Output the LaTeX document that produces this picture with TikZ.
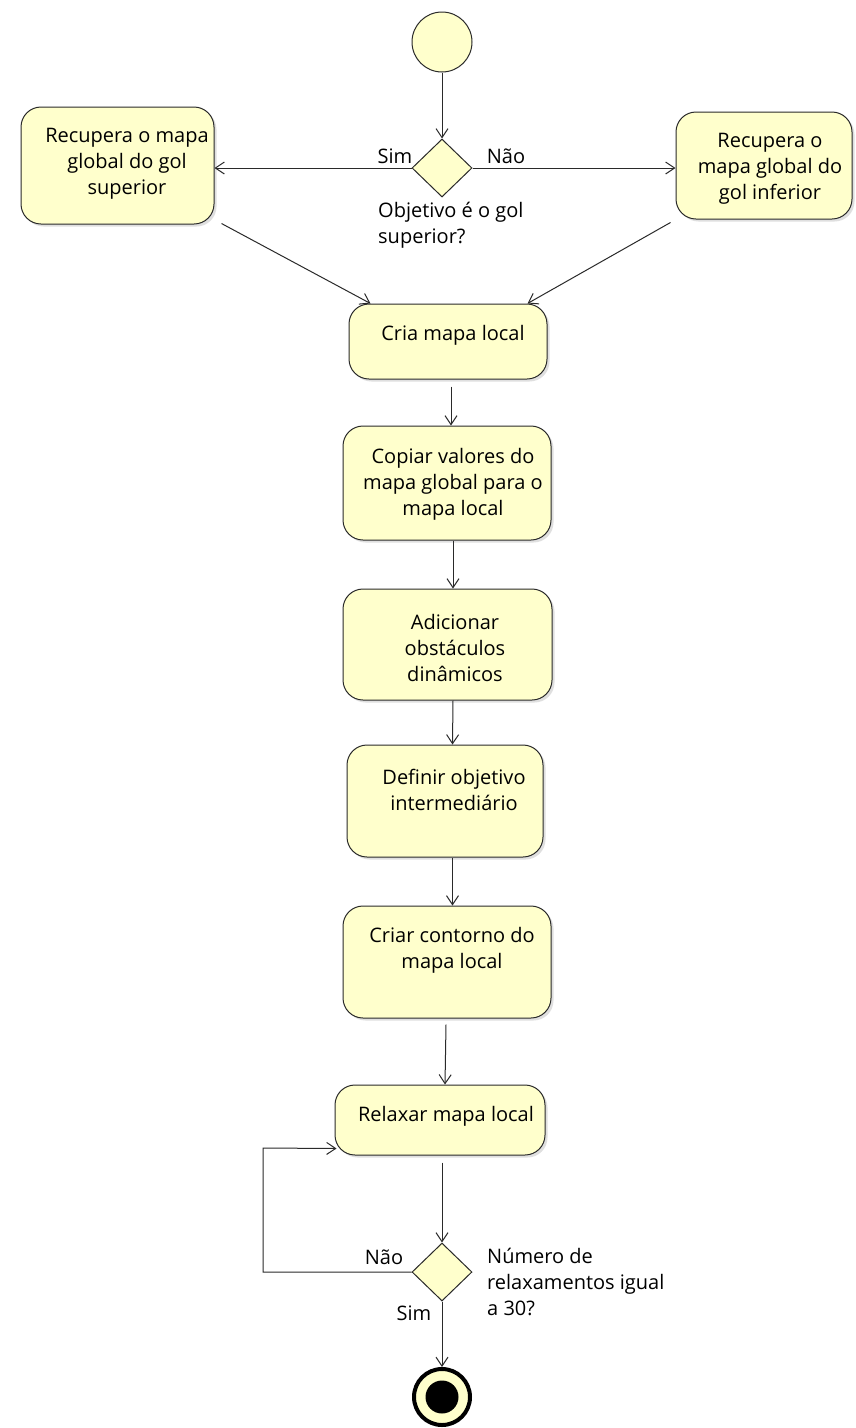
\documentclass[tikz,border=0pt]{standalone}
\usepackage{fontspec}
\setmainfont{Open Sans}
\usetikzlibrary{shapes.geometric,arrows.meta,calc,shadows}
\definecolor{umlfill}{HTML}{FFFFCC}
\definecolor{umlline}{HTML}{2A2A2A}
\begin{document}
\begin{tikzpicture}[x=1pt,y=-1pt,
  every node/.style={font=\fontsize{20}{26}\selectfont},
  actbox/.style={draw=umlline,line width=1pt,fill=umlfill,rounded corners=20pt,inner sep=0pt,
    drop shadow={shadow xshift=2.5pt,shadow yshift=-2.5pt,opacity=0.25,fill=gray}},
  txt/.style={align=center,inner sep=0pt},
  ltxt/.style={align=left,inner sep=0pt,anchor=west},
  decision/.style={diamond,draw=umlline,line width=1pt,fill=umlfill,inner sep=0pt,minimum width=60pt,minimum height=58pt},
  arr/.style={draw=umlline,line width=1pt,-{Straight Barb[length=9pt,width=12pt,line width=1pt]}}
]
\useasboundingbox[fill=white] (0,0) rectangle (856,1428);

% start
\node[circle,draw=umlline,line width=1pt,fill=umlfill,minimum size=60pt,inner sep=0pt] (start) at (442,42) {};
\node[decision] (d1) at (442,168) {};

% side boxes
\node[actbox,minimum width=193pt,minimum height=117pt] (left) at (117.5,165.5) {};
\node[txt] at (127,164) {Recupera o mapa\\global do gol\\superior};
\node[actbox,minimum width=176pt,minimum height=107pt] (right) at (764,165.5) {};
\node[txt] at (770,169) {Recupera o\\mapa global do\\gol inferior};

\node[inner sep=0pt] (sim1) at (395,156) {Sim};
\node[inner sep=0pt] (nao1) at (506,156) {Não};
\node[ltxt] (q1) at (378,225) {Objetivo é o gol\\superior?};

% main column
\node[actbox,minimum width=198pt,minimum height=75pt] (cria) at (448,341.5) {};
\node[txt] at (453,335) {Cria mapa local};
\node[actbox,minimum width=208pt,minimum height=114pt] (copiar) at (447,483) {};
\node[txt] at (453,484) {Copiar valores do\\mapa global para o\\mapa local};
\node[actbox,minimum width=209pt,minimum height=111pt] (adic) at (447.5,644.5) {};
\node[txt] at (455,648) {Adicionar\\obstáculos\\dinâmicos};
\node[actbox,minimum width=196pt,minimum height=112pt] (defin) at (445,801) {};
\node[txt] at (454,790) {Definir objetivo\\intermediário};
\node[actbox,minimum width=208pt,minimum height=112pt] (contorno) at (447,962) {};
\node[txt] at (452,950) {Criar contorno do\\mapa local};
\node[actbox,minimum width=210pt,minimum height=70pt] (relax) at (440,1120) {};
\node[txt] at (446,1116) {Relaxar mapa local};

\node[decision] (d2) at (442,1272) {};
\node[inner sep=0pt] (nao2) at (384,1257) {Não};
\node[inner sep=0pt] (sim2) at (414,1313) {Sim};
\node[ltxt] (q2) at (487,1282) {Número de\\relaxamentos igual\\a 30?};

% end
\node[circle,draw=black,line width=4pt,fill=umlfill,minimum size=56pt,inner sep=0pt] (fim) at (442,1397) {};
\node[circle,fill=black,minimum size=33pt,inner sep=0pt] (fimdot) at (fim) {};

\coordinate (lp) at (263,1148);

% connectors
\draw[arr] (start) -- (d1);
\draw[arr] (d1.west) -- (d1.west -| left.east);
\draw[arr] (d1.east) -- (d1.east -| right.west);
\draw[arr] ($(left.south east)+(7,-1)$) -- ($(cria.north west)+(22,0)$);
\draw[arr] ($(right.south west)+(-5,3)$) -- ($(cria.north east)+(-20,0)$);
\draw[arr] ($(cria.south)+(3,7)$) -- ($(copiar.north)+(4,0)$);
\draw[arr] ($(copiar.south)+(6,0)$) -- ($(adic.north)+(5.5,0)$);
\draw[arr] ($(adic.south)+(5.5,0)$) -- ($(defin.north)+(7.5,0)$);
\draw[arr] ($(defin.south)+(7.5,0)$) -- ($(contorno.north)+(5.5,0)$);
\draw[arr] ($(contorno.south)+(-1,6)$) -- ($(relax.north)+(5,0)$);
\draw[arr] ($(d2.north |- relax.south)+(0,7)$) -- (d2.north);
\draw[arr] (d2.west) -| (lp) -- ($(relax.south west)+(2,-7)$);
\draw[arr] (d2.south) -- (fim.north);
\end{tikzpicture}
\end{document}
